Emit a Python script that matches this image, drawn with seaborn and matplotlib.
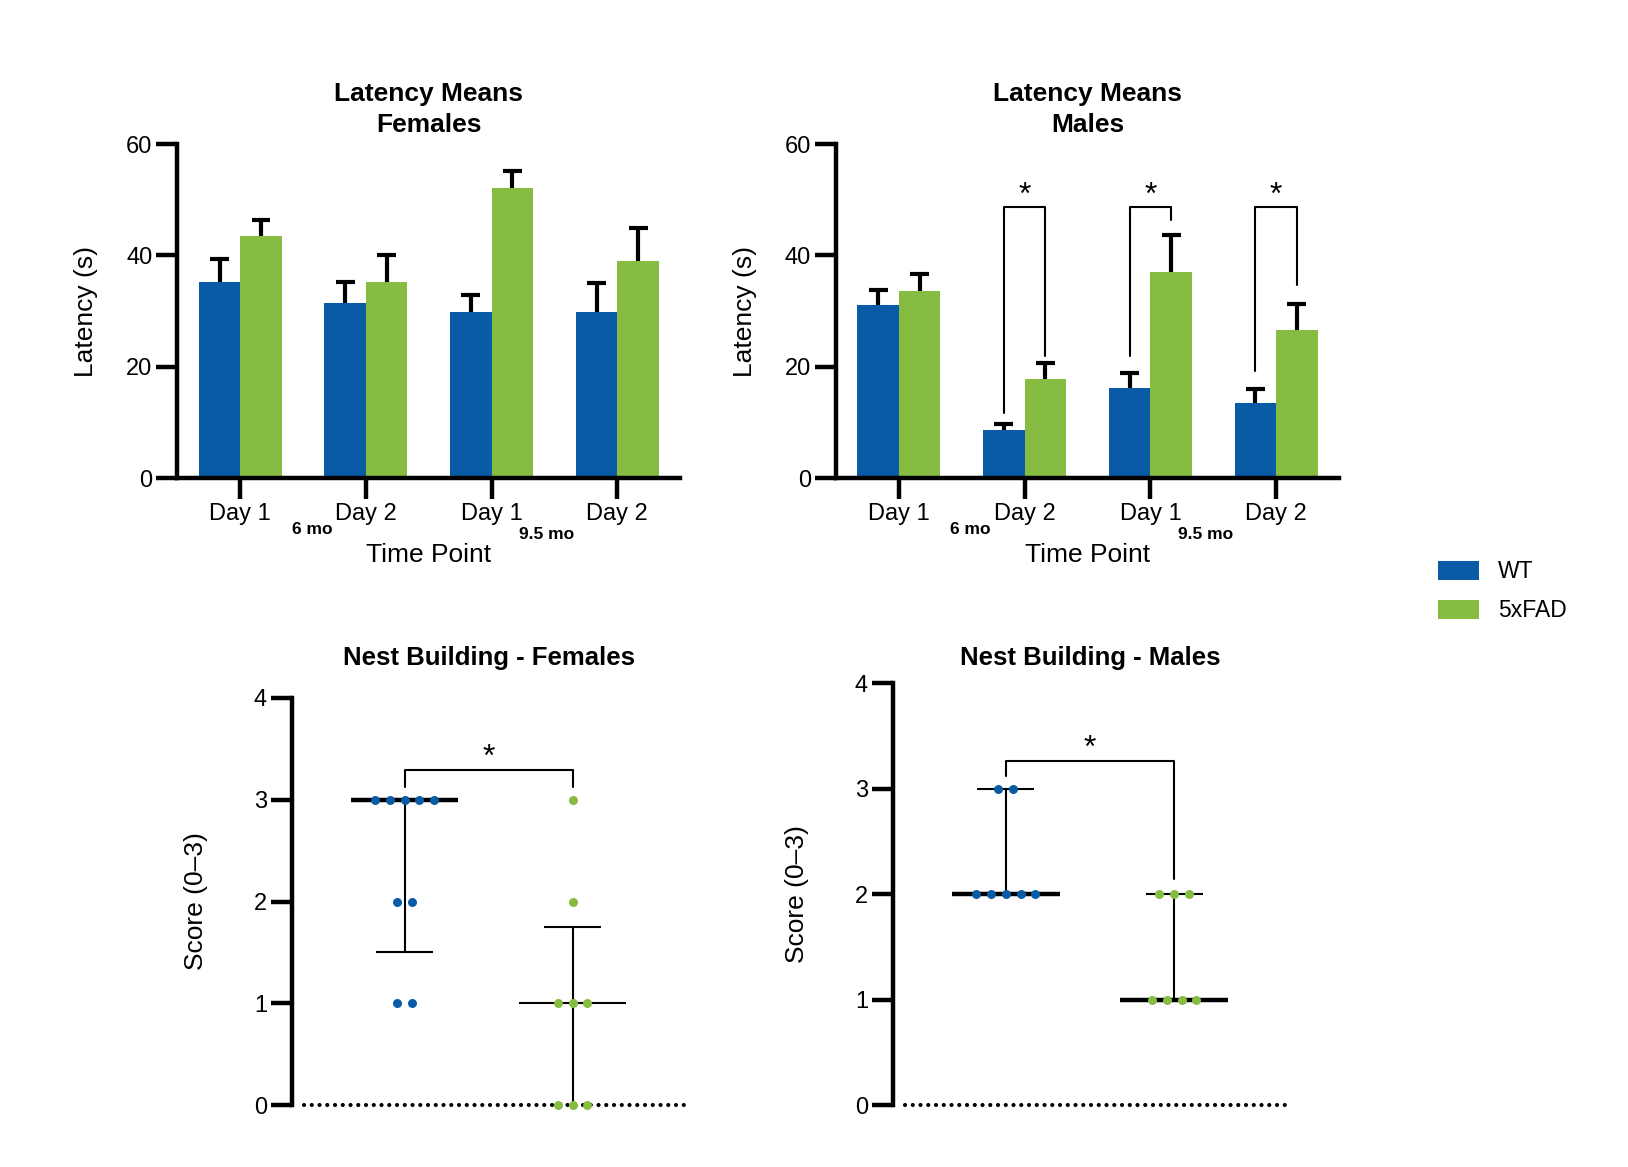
import numpy as np
import pandas as pd
import matplotlib
matplotlib.use("Agg")
import matplotlib.pyplot as plt
import matplotlib.transforms as mtransforms
from matplotlib.patches import Patch
import seaborn as sns

# latency data (means + SEM, upper only)
timepoints = ["6mo Day 1", "6mo Day 2", "9.5mo Day 1", "9.5mo Day 2"]
tick_labels = ["Day 1", "Day 2", "Day 1", "Day 2"]
genotypes = ["WT", "5xFAD"]

fem_wt = [35.3, 31.4, 29.9, 29.9]
fem_wt_err = [4.0, 3.9, 3.0, 5.2]
fem_fad = [43.4, 35.3, 52.1, 38.9]
fem_fad_err = [3.0, 4.7, 3.0, 6.1]

male_wt = [31.0, 8.6, 16.1, 13.5]
male_wt_err = [2.8, 1.1, 2.8, 2.4]
male_fad = [33.6, 17.8, 37.0, 26.5]
male_fad_err = [3.0, 2.9, 6.6, 4.7]

# significance brackets (males)
sig_groups = [1, 2, 3]
sig_y = 48.6
sig_left_end = [11.6, 21.9, 19.3]
sig_right_end = [22.0, 46.4, 34.6]

# nest building scores
nest_fem_wt = [3, 3, 3, 3, 3, 2, 2, 1, 1]
nest_fem_fad = [3, 2, 1, 1, 1, 0, 0, 0]
nest_male_wt = [3, 3, 2, 2, 2, 2, 2]
nest_male_fad = [2, 2, 2, 1, 1, 1, 1]
nest_sig = {"Females": (3.29, 3.13, 3.13), "Males": (3.26, 3.12, 2.14)}

blue = "#0A5BA6"
green = "#86BC41"
pal = {"WT": blue, "5xFAD": green}

sns.set_style("ticks")
plt.rcParams['font.family'] = ['Liberation Sans', 'DejaVu Sans']
plt.rcParams['text.color'] = 'black'
plt.rcParams['axes.labelcolor'] = 'black'
plt.rcParams['xtick.color'] = 'black'
plt.rcParams['ytick.color'] = 'black'

fig = plt.figure(figsize=(16.28, 11.67), dpi=100)

def style_axis(ax):
    for s in ["top", "right"]:
        ax.spines[s].set_visible(False)
    for s in ["left", "bottom"]:
        ax.spines[s].set_linewidth(3.2)
        ax.spines[s].set_color("black")
    ax.tick_params(axis="both", width=3.2, length=15, labelsize=17, color="black",
                   labelcolor="black", pad=3)


def latency_panel(ax, wt, wt_err, fad, fad_err, title):
    df = pd.DataFrame({
        "tp": timepoints * 2,
        "genotype": ["WT"] * 4 + ["5xFAD"] * 4,
        "latency": wt + fad,
    })
    sns.barplot(data=df, x="tp", y="latency", hue="genotype", order=timepoints,
                hue_order=genotypes, palette=pal, width=0.66, errorbar=None,
                saturation=1, linewidth=0, legend=False, ax=ax)
    errs = wt_err + fad_err
    for bar, e in zip(ax.patches, errs):
        x = bar.get_x() + bar.get_width() / 2
        h = bar.get_height()
        ax.vlines(x, h, h + e, color="black", lw=3, zorder=4)
        ax.hlines(h + e, x - 0.075, x + 0.075, color="black", lw=3, zorder=4)
    ax.set_xlim(-0.5, 3.5)
    ax.set_ylim(0, 60)
    ax.set_yticks([0, 20, 40, 60])
    ax.set_xticks(range(4))
    ax.set_xticklabels(tick_labels)
    style_axis(ax)
    ax.tick_params(axis="x", pad=3)
    ax.set_ylabel("Latency (s)", fontsize=19, labelpad=20)
    ax.set_xlabel("Time Point", fontsize=19, labelpad=13)
    ax.set_title(title, fontsize=19, fontweight="bold", pad=9, linespacing=1.35)
    trans = mtransforms.blended_transform_factory(ax.transData, ax.transAxes)
    ax.text(0.57, -0.155, "6 mo", transform=trans, ha="center", va="center",
            fontsize=12.5, fontweight="bold")
    ax.text(2.44, -0.168, "9.5 mo", transform=trans, ha="center", va="center",
            fontsize=12.5, fontweight="bold")


ax1 = fig.add_axes([0.109, 0.5904, 0.3088, 0.2862])
latency_panel(ax1, fem_wt, fem_wt_err, fem_fad, fem_fad_err, "Latency Means\nFemales")

ax2 = fig.add_axes([0.5135, 0.5904, 0.309, 0.2862])
latency_panel(ax2, male_wt, male_wt_err, male_fad, male_fad_err, "Latency Means\nMales")
for g, le, re in zip(sig_groups, sig_left_end, sig_right_end):
    xl, xr = g - 0.165, g + 0.165
    ax2.plot([xl, xl, xr, xr], [le, sig_y, sig_y, re], color="black", lw=1.5, zorder=5)
    ax2.text(g, sig_y - 0.6, "*", ha="center", va="bottom", fontsize=23)


def nest_panel(ax, wt, fad, title, median_lw, sig, title_pad):
    spacing = 0.088
    for i, (vals, col) in enumerate([(wt, blue), (fad, green)]):
        vals = np.array(vals)
        xs, ys = [], []
        for v in sorted(set(vals), reverse=True):
            n = int((vals == v).sum())
            for k in range(n):
                xs.append(i + (k - (n - 1) / 2) * spacing)
                ys.append(v)
        med = np.median(vals)
        q1, q3 = np.percentile(vals, [25, 75], method="weibull")
        ax.vlines(i, q1, q3, color="black", lw=1.5, zorder=3)
        for q in (q1, q3):
            if q != med and q > 0:
                ax.hlines(q, i - 0.17, i + 0.17, color="black", lw=1.5, zorder=3)
        ax.hlines(med, i - 0.32, i + 0.32, color="black", lw=median_lw[i], zorder=3)
        sns.scatterplot(x=xs, y=ys, color=col, s=42, linewidth=0, ax=ax,
                        zorder=6, clip_on=False)
    ax.set_xlim(-0.67, 1.67)
    ax.set_ylim(0, 4)
    ax.set_yticks([0, 1, 2, 3, 4])
    ax.set_xticks([])
    style_axis(ax)
    ax.spines["bottom"].set_visible(False)
    ax.plot([0.03, 1], [0, 0], transform=ax.get_yaxis_transform(), color="black",
            lw=3, linestyle=(0, (0.01, 1.85)), dash_capstyle="round",
            clip_on=False, zorder=2)
    ax.set_ylabel("Score (0\u20133)", fontsize=19, labelpad=33)
    ax.set_title(title, fontsize=18.5, fontweight="bold", pad=title_pad)
    by, ly, ry = sig
    ax.plot([0, 0, 1, 1], [ly, by, by, ry], color="black", lw=1.5)
    ax.text(0.5, by - 0.03, "*", ha="center", va="bottom", fontsize=23)


ax3 = fig.add_axes([0.1794, 0.0531, 0.2414, 0.3488])
nest_panel(ax3, nest_fem_wt, nest_fem_fad, "Nest Building - Females", [3.2, 1.5],
           nest_sig["Females"], 24)

ax4 = fig.add_axes([0.5485, 0.0531, 0.242, 0.3616])
nest_panel(ax4, nest_male_wt, nest_male_fad, "Nest Building - Males", [3.2, 3.2],
           nest_sig["Males"], 13)

handles = [Patch(facecolor=pal[g], edgecolor="none", label=g) for g in genotypes]
fig.legend(handles=handles, loc="upper left", bbox_to_anchor=(0.8833, 0.5200),
           frameon=False, fontsize=16.5, handlelength=1.8, handleheight=0.9,
           handletextpad=0.8, labelspacing=0.7, borderpad=0, borderaxespad=0)

fig.savefig("out.png", dpi=100)
